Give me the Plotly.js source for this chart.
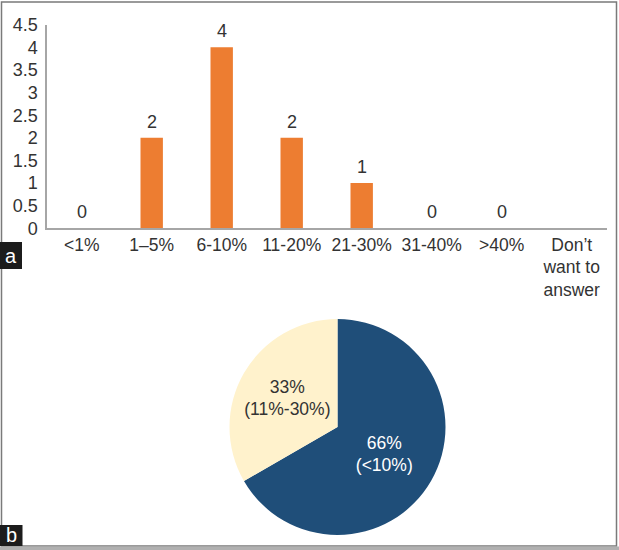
<!DOCTYPE html>
<html>
<head>
<meta charset="utf-8">
<script src="https://cdn.plot.ly/plotly-3.0.1.min.js"></script>
<style>
  body { margin: 0; padding: 0; background: white; }
  #chart { width: 619px; height: 550px; }
</style>
</head>
<body>
<div id="chart"></div>
<script>
// Panel a: bar chart
var categories = ['<1%', '1\u20135%', '6-10%', '11-20%', '21-30%', '31-40%', '>40%', "Don\u2019t<br>want to<br>answer"]
var counts = [0, 2, 4, 2, 1, 0, 0, null]
var count_labels = ['0', '2', '4', '2', '1', '0', '0', '']

// Panel b: pie chart
var pie_values = [66, 33]
var pie_labels = ['66%<br>(<10%)', '33%<br>(11%-30%)']

var W = 619, H = 550
var text_color = '#333333'
var font_family = 'Liberation Sans, Arial, sans-serif'
var fsize = 18

function px(x) { return x / W }
function py(y) { return (H - y) / H }

var bar_trace = {
  type: 'bar',
  x: categories,
  y: counts,
  marker: {color: '#ED7D31'},
  hoverinfo: 'none',
  showlegend: false
}

var pie_trace = {
  type: 'pie',
  values: pie_values,
  text: pie_labels,
  textinfo: 'text',
  textposition: 'inside',
  insidetextorientation: 'horizontal',
  sort: false,
  direction: 'clockwise',
  rotation: 0,
  marker: {colors: ['#1F4E79', '#FFF2CC'], line: {width: 0}},
  insidetextfont: {color: ['#ffffff', text_color], size: 17.5, family: font_family},
  domain: {x: [px(229.5), px(445.5)], y: [py(535), py(319)]},
  hoverinfo: 'none',
  showlegend: false
}

// value labels above the bars
var value_annotations = []
for (i = 0; i < categories.length; i++) {
  if (count_labels[i] === '') continue
  value_annotations.push({
    x: categories[i],
    y: counts[i],
    xref: 'x',
    yref: 'y',
    text: count_labels[i],
    showarrow: false,
    yanchor: 'bottom',
    yshift: 4,
    font: {size: fsize, color: text_color, family: font_family}
  })
}

var panel_annotations = [
  {x: px(11), y: py(255.5), xref: 'paper', yref: 'paper', xanchor: 'center', yanchor: 'middle',
   text: 'a', showarrow: false, font: {size: 20, color: 'white', family: font_family}},
  {x: px(11.2), y: py(535), xref: 'paper', yref: 'paper', xanchor: 'center', yanchor: 'middle',
   text: 'b', showarrow: false, font: {size: 20, color: 'white', family: font_family}}
]

var layout = {
  width: W,
  height: H,
  margin: {l: 0, r: 0, t: 0, b: 0, pad: 0},
  paper_bgcolor: 'white',
  plot_bgcolor: 'white',
  bargap: 0.68,
  font: {family: font_family, size: fsize, color: text_color},
  xaxis: {
    domain: [px(46.7), px(606.7)],
    type: 'category',
    showline: true,
    linecolor: '#a6a6a6',
    linewidth: 1.3,
    showgrid: false,
    zeroline: false,
    ticks: '',
    ticklabelstandoff: 0,
    tickfont: {size: 17.5, color: text_color},
    fixedrange: true
  },
  yaxis: {
    domain: [py(228.3), py(24.7)],
    range: [0, 4.5],
    dtick: 0.5,
    tick0: 0,
    showline: true,
    linecolor: '#a6a6a6',
    linewidth: 1.3,
    showgrid: false,
    zeroline: false,
    ticks: '',
    ticklabelstandoff: 4,
    tickfont: {size: fsize, color: text_color},
    fixedrange: true
  },
  shapes: [
    // outer frame
    {type: 'rect', xref: 'paper', yref: 'paper', x0: px(1.5), x1: px(616.5), y0: py(546), y1: py(2),
     line: {color: '#7a7a7a', width: 1.5}, fillcolor: 'rgba(0,0,0,0)'},
    {type: 'rect', xref: 'paper', yref: 'paper', x0: 0, x1: 1, y0: 0, y1: py(546.5),
     line: {width: 0}, fillcolor: '#b0b0b0'},
    // panel tags
    {type: 'rect', xref: 'paper', yref: 'paper', x0: 0, x1: px(22), y0: py(269), y1: py(242),
     line: {width: 0}, fillcolor: '#1c1c1c'},
    {type: 'rect', xref: 'paper', yref: 'paper', x0: 0, x1: px(22.5), y0: py(546), y1: py(525),
     line: {width: 0}, fillcolor: '#1c1c1c'}
  ],
  annotations: value_annotations.concat(panel_annotations)
}

Plotly.newPlot('chart', [bar_trace, pie_trace], layout, {displayModeBar: false, staticPlot: true})
</script>
</body>
</html>
